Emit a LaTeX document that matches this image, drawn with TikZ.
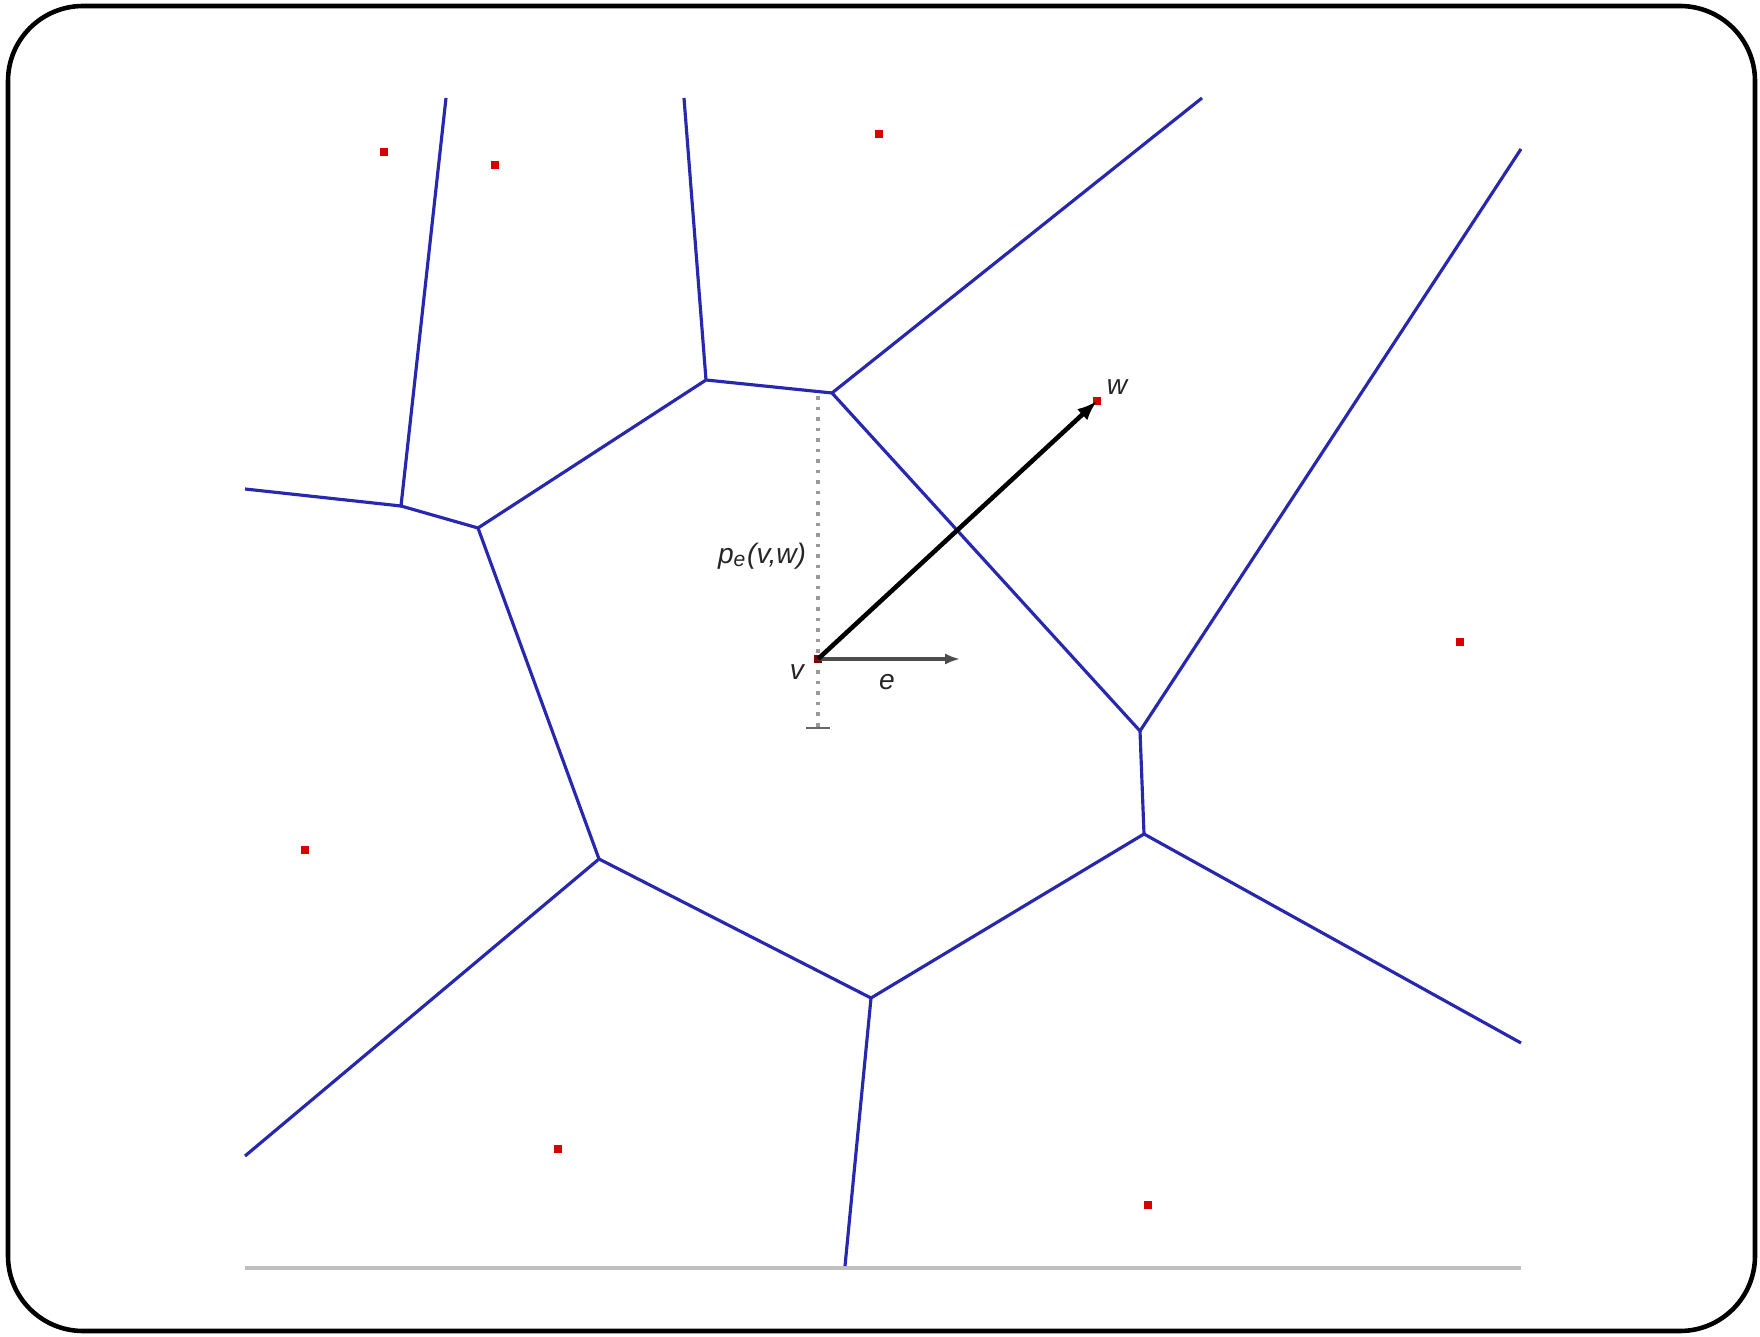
\documentclass[tikz,border=0pt]{standalone}
\usepackage{fontspec}
\setsansfont{Liberation Sans}
\usepackage{tikz}
\usetikzlibrary{arrows.meta}
\definecolor{cellblue}{RGB}{40,40,175}

\begin{document}
\begin{tikzpicture}[x=0.01cm, y=-0.01cm, every node/.style={font=\sffamily\itshape\fontsize{8}{9}\selectfont, text=black!85}, >={Latex[length=2mm]},
	site/.style={fill=red!85!black, inner sep=0pt, minimum size=0.08cm},
	cell/.style={cellblue, line width=0.9pt}]
	\useasboundingbox (0,0) rectangle (1760,1337);
	\draw[line width=1.3pt, rounded corners=0.75cm] (8,6) rectangle (1755,1331);
	\draw[black!25, line width=1pt] (245,1268) -- (1521,1268);
	\coordinate (A) at (706,380);
	\coordinate (B) at (832,393);
	\coordinate (C) at (478,528);
	\coordinate (D) at (401,506);
	\coordinate (E) at (1140,731);
	\coordinate (F) at (1144,834);
	\coordinate (G) at (599,859);
	\coordinate (H) at (871,998);
	\draw[cell] (C) -- (A) -- (B) -- (E) -- (F) -- (H) -- (G) -- cycle;
	\draw[cell] (446,98) -- (D) -- (C);
	\draw[cell] (245,489) -- (D);
	\draw[cell] (684,98) -- (A);
	\draw[cell] (1202,98) -- (B);
	\draw[cell] (1521,149) -- (E);
	\draw[cell] (1521,1043) -- (F);
	\draw[cell] (245,1156) -- (G);
	\draw[cell] (845,1266) -- (H);
	\node[site] (s1) at (384,152) {};
	\node[site] (s2) at (495,165) {};
	\node[site] (s3) at (879,134) {};
	\node[site] (s4) at (1460,642) {};
	\node[site] (s5) at (305,850) {};
	\node[site] (s6) at (558,1149) {};
	\node[site] (s7) at (1148,1205) {};
	\node[site] (w) at (1097,401) {};
	\draw[black!40, line width=1pt, dotted] (818,396) -- (818,728);
	\draw[black!60, line width=0.6pt] (806,728) -- (830,728);
	\node[site, fill=red!50!black] (v) at (818,659) {};
	\node (vlab) at (797,672) {v};
	\node (wlab) at (1117,387) {w};
	\node (elab) at (887,682) {e};
	\node (plab) at (762,556) {p\textsubscript{e}(v,w)};
	\coordinate (eend) at (960,659);
	\draw[->, black!70, line width=1pt, >={Latex[length=1.5mm]}] (v.center) -- (eend);
	\draw[->, line width=1.3pt] (v.center) -- (w.center);
\end{tikzpicture}
\end{document}
